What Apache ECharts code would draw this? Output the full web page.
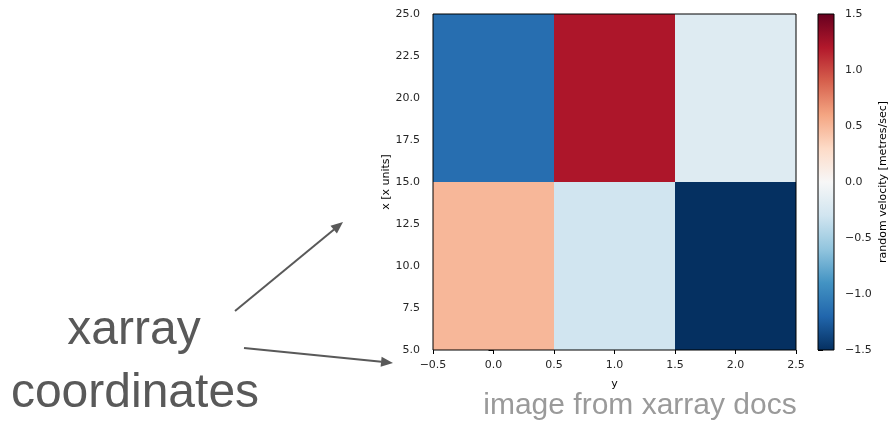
<!DOCTYPE html>
<html>
<head>
<meta charset="utf-8">
<script src="https://cdn.jsdelivr.net/npm/echarts@6/dist/echarts.min.js"></script>
<style>html,body{margin:0;padding:0;background:#fff;}#c{width:890px;height:422px;}</style>
</head>
<body>
<div id="c"></div>
<script>
// horizontal coordinate "y" (cell centres)
const yCoords = [0, 1, 2];
// vertical coordinate "x" (cell centres, x units)
const xCoords = [10, 20];
// random velocity [metres/sec], rows follow xCoords, columns follow yCoords
const velocityRow10 = [0.5, -0.3, -1.55];
const velocityRow20 = [-1.15, 1.22, -0.2];
// colour bar range and ticks
const cbarRange = [-1.5, 1.5];
const xTicksRange = [-0.5, 2.5];
const yTicksRange = [5, 25];
// RdBu_r colour map
const rdbuR = ['#053061','#2166ac','#4393c3','#92c5de','#d1e5f0','#f7f7f7','#fddbc7','#f4a582','#d6604d','#b2182b','#67001f'];

const rows = [velocityRow10, velocityRow20];
const data = [];
xCoords.forEach((xv, i) => yCoords.forEach((yv, j) => data.push([yv, xv, rows[i][j]])));
const dY = yCoords[1] - yCoords[0];
const dX = xCoords[1] - xCoords[0];

const chart = echarts.init(document.getElementById('c'), null, {renderer: 'canvas'});
const fmt = v => v.toFixed(1).replace('-', '\u2212');
const tickFont = {fontFamily: 'DejaVu Sans', fontSize: 11, color: '#262626'};
const nameFont = {fontFamily: 'DejaVu Sans', fontSize: 11, color: '#000'};

const stops = rdbuR.map((c, i) => ({offset: i / (rdbuR.length - 1), color: c}));

chart.setOption({
  animation: false,
  backgroundColor: '#fff',
  grid: [
    {left: 433, top: 14, width: 363, height: 336, show: true, z: 10, backgroundColor: 'transparent', borderColor: '#000', borderWidth: 1},
    {left: 818, top: 14, width: 16, height: 336, show: true, z: 10, backgroundColor: 'transparent', borderColor: '#000', borderWidth: 1}
  ],
  visualMap: {
    type: 'continuous', show: false, min: cbarRange[0], max: cbarRange[1],
    dimension: 2, seriesIndex: 0, inRange: {color: rdbuR}
  },
  xAxis: [
    {type: 'value', gridIndex: 0, min: xTicksRange[0], max: xTicksRange[1], interval: 0.5,
     name: 'y', nameLocation: 'middle', nameGap: 29, nameTextStyle: nameFont,
     axisLine: {show: false}, splitLine: {show: false},
     axisTick: {show: true, length: 4, lineStyle: {color: '#000'}},
     axisLabel: Object.assign({formatter: fmt, margin: 10, showMinLabel: true, showMaxLabel: true}, tickFont)},
    {type: 'value', gridIndex: 1, min: 0, max: 1, show: false}
  ],
  yAxis: [
    {type: 'value', gridIndex: 0, min: yTicksRange[0], max: yTicksRange[1], interval: 2.5,
     name: 'x [x units]', nameLocation: 'middle', nameGap: 41, nameRotate: 90, nameTextStyle: nameFont,
     axisLine: {show: false}, splitLine: {show: false},
     axisTick: {show: true, length: 5, lineStyle: {color: '#000'}},
     axisLabel: Object.assign({formatter: fmt, margin: 13, showMinLabel: true, showMaxLabel: true}, tickFont)},
    {type: 'value', gridIndex: 1, position: 'right', min: cbarRange[0], max: cbarRange[1], interval: 0.5,
     name: 'random velocity [metres/sec]', nameLocation: 'middle', nameGap: 44, nameRotate: 90, nameTextStyle: nameFont,
     axisLine: {show: false}, splitLine: {show: false},
     axisTick: {show: true, length: 5, lineStyle: {color: '#000'}},
     axisLabel: Object.assign({formatter: fmt, margin: 11, showMinLabel: true, showMaxLabel: true}, tickFont)}
  ],
  series: [
    {
      type: 'custom', xAxisIndex: 0, yAxisIndex: 0, data: data, encode: {x: 0, y: 1},
      renderItem: function (params, api) {
        const x = api.value(0), y = api.value(1);
        const p0 = api.coord([x - dY / 2, y + dX / 2]);
        const p1 = api.coord([x + dY / 2, y - dX / 2]);
        return {type: 'rect', shape: {x: p0[0], y: p0[1], width: p1[0] - p0[0], height: p1[1] - p0[1]},
                style: {fill: api.visual('color')}};
      }
    },
    {
      type: 'custom', xAxisIndex: 1, yAxisIndex: 1, data: [[0, cbarRange[0], 1, cbarRange[1]]],
      renderItem: function (params, api) {
        const p0 = api.coord([api.value(0), api.value(3)]);
        const p1 = api.coord([api.value(2), api.value(1)]);
        return {type: 'rect', shape: {x: p0[0], y: p0[1], width: p1[0] - p0[0], height: p1[1] - p0[1]},
                style: {fill: new echarts.graphic.LinearGradient(0, 1, 0, 0, stops)}};
      }
    }
  ],
  graphic: [
    {type: 'text', x: 134, y: 331, style: {text: 'xarray', font: '48px "Liberation Sans", Arial, sans-serif', fill: '#595959', align: 'center', verticalAlign: 'middle'}},
    {type: 'text', x: 135, y: 394, style: {text: 'coordinates', font: '48px "Liberation Sans", Arial, sans-serif', fill: '#595959', align: 'center', verticalAlign: 'middle'}},
    {type: 'text', x: 640, y: 406, style: {text: 'image from xarray docs', font: '30px "Liberation Sans", Arial, sans-serif', fill: '#9a9a9a', align: 'center', verticalAlign: 'middle'}},
    {type: 'line', shape: {x1: 235, y1: 311, x2: 334, y2: 229.6}, style: {stroke: '#595959', lineWidth: 2}},
    {type: 'polygon', shape: {points: [[343, 222], [336.9, 233.4], [330.5, 225.7]]}, style: {fill: '#595959'}},
    {type: 'line', shape: {x1: 244, y1: 348, x2: 381.5, y2: 361.8}, style: {stroke: '#595959', lineWidth: 2}},
    {type: 'polygon', shape: {points: [[393, 363], [380.6, 366.8], [381.6, 356.8]]}, style: {fill: '#595959'}}
  ]
});
</script>
</body>
</html>
